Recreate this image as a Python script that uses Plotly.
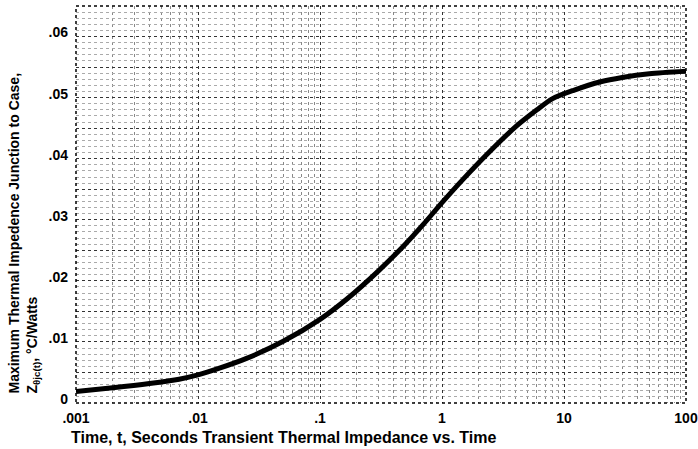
import plotly.graph_objects as go

# Data
time_s = [0.001, 0.002, 0.004, 0.007, 0.01, 0.015, 0.025, 0.05, 0.1, 0.17, 0.3, 0.5,
          0.7, 1, 1.5, 2.5, 4, 6, 8, 12, 20, 30, 50, 100]
z_thjc = [0.0019, 0.0025, 0.0032, 0.0039, 0.0046, 0.0057, 0.0073, 0.0101, 0.0137, 0.0172,
          0.0216, 0.0260, 0.0292, 0.0328, 0.0367, 0.0413, 0.0452, 0.0480, 0.0498, 0.0512,
          0.0526, 0.0533, 0.0539, 0.0543]

x_tickvals = [0.001, 0.01, 0.1, 1, 10, 100]
x_ticktext = [".001", ".01", ".1", "1", "10", "100"]
y_tickvals = [0, 0.005, 0.01, 0.015, 0.02, 0.025, 0.03, 0.035, 0.04, 0.045, 0.05, 0.055, 0.06]
y_ticktext = ["0", "", ".01", "", ".02", "", ".03", "", ".04", "", ".05", "", ".06"]

FONT = "Liberation Sans"

fig = go.Figure()
fig.add_trace(go.Scatter(
    x=time_s, y=z_thjc, mode="lines",
    line=dict(color="black", width=5, shape="spline", smoothing=0.8),
    showlegend=False, hoverinfo="skip"))

fig.update_layout(
    width=698, height=449,
    margin=dict(l=76, r=12, t=6, b=46, autoexpand=False),
    paper_bgcolor="white", plot_bgcolor="white",
    font=dict(family=FONT, color="black"),
)

fig.update_xaxes(
    type="log", range=[-3, 2], automargin=False,
    tickmode="array", tickvals=x_tickvals, ticktext=x_ticktext,
    tickfont=dict(family=FONT, size=14, color="black", weight="bold"),
    ticklabelstandoff=5,
    showgrid=True, gridcolor="#333", griddash="dot", gridwidth=1,
    minor=dict(dtick="D1", showgrid=True, gridcolor="#888", griddash="dot", gridwidth=1),
    ticks="", zeroline=False, showline=False,
)
fig.update_yaxes(
    range=[0, 0.065], automargin=False,
    tickmode="array", tickvals=y_tickvals, ticktext=y_ticktext,
    tickfont=dict(family=FONT, size=14, color="black", weight="bold"),
    ticklabelstandoff=7, ticklabelshift=-4,
    showgrid=True, gridcolor="#333", griddash="dot", gridwidth=1,
    minor=dict(dtick=0.001, showgrid=True, gridcolor="#aaa", griddash="dot", gridwidth=1),
    ticks="", zeroline=False, showline=False,
)

fig.add_shape(type="rect", xref="paper", yref="paper", x0=0, y0=0, x1=1, y1=1,
              line=dict(color="black", width=1.5, dash="dot"))

fig.add_annotation(
    xref="paper", yref="paper", x=-0.011, y=-0.086, xanchor="left", yanchor="middle",
    text="Time, t, Seconds Transient Thermal Impedance vs. Time", showarrow=False,
    font=dict(family=FONT, size=16, color="black", weight="bold"))

fig.add_annotation(
    xref="paper", yref="paper", x=-0.085, y=0.018, xanchor="center", yanchor="bottom",
    textangle=-90, align="left",
    text="Maximum Thermal Impedence Junction to Case,<br>Z<sub>θjc(t)</sub>, °C/Watts",
    showarrow=False,
    font=dict(family=FONT, size=14, color="black", weight="bold"))

fig.write_html("out.html", config={"displayModeBar": False},
               post_script="document.body.style.margin='0';document.body.style.padding='0';")
